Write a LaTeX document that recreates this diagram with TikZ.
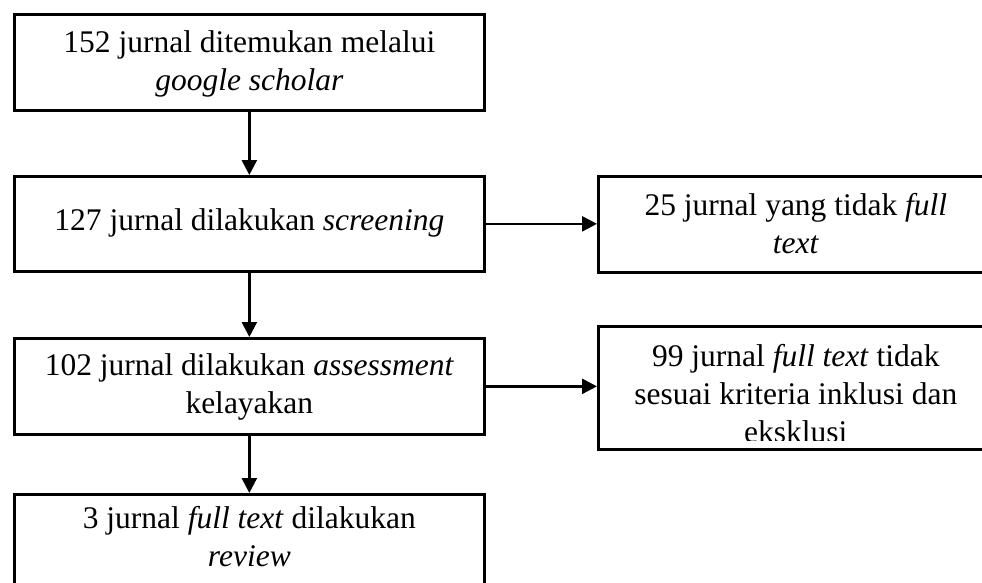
\documentclass[tikz,border=0pt]{standalone}
\usepackage{fontspec}
\setmainfont{Liberation Serif}
\usetikzlibrary{arrows.meta}
\begin{document}
\begin{tikzpicture}[x=1pt,y=-1pt,
  boxstyle/.style={draw, line width=2.7pt, inner sep=0pt, anchor=north west},
  leftbox/.style={boxstyle, minimum width=470pt},
  rightbox/.style={boxstyle, minimum width=395pt},
  txt/.style={anchor=north, inner sep=0pt, align=center, font=\fontsize{31.5pt}{38pt}\selectfont},
  conn/.style={line width=2.5pt, -{Triangle[length=15pt,width=15pt]}}
]
\useasboundingbox (0,0) rectangle (982,583);
\clip (0,0) rectangle (982,583);
\fill[white] (0,0) rectangle (982,583);

% boxes
\node[leftbox, minimum height=96pt] (b1) at (13,13) {};
\node[leftbox, minimum height=95pt] (b2) at (13,175) {};
\node[leftbox, minimum height=96pt] (b3) at (13,337) {};
\node[leftbox, minimum height=110pt] (b4) at (13,493) {};
\node[rightbox, minimum height=96pt] (r1) at (597,175) {};
\node[rightbox, minimum height=123pt] (r2) at (597,325) {};

% texts
\node[txt] (t1) at (b1.north) {\rule{0pt}{39.7pt}152 jurnal ditemukan melalui\\\textit{google scholar}};
\node[txt] (t2) at (b2.north) {\rule{0pt}{55pt}127 jurnal dilakukan \textit{screening}};
\node[txt] (t3) at (b3.north) {\rule{0pt}{38.7pt}102 jurnal dilakukan \textit{assessment}\\kelayakan};
\node[txt] (t4) at (b4.north) {\rule{0pt}{35.3pt}3 jurnal \textit{full text} dilakukan\\\textit{review}};
\node[txt] (t5) at (r1.north) {\rule{0pt}{40pt}25 jurnal yang tidak \textit{full}\\\textit{text}};
\begin{scope}
\clip (597,325) rectangle (992,440);
\node[txt] (t6) at (r2.north) {\rule{0pt}{41pt}99 jurnal \textit{full text} tidak\\sesuai kriteria inklusi dan\\eksklusi};
\end{scope}

% connectors
\draw[conn] (b1.south) -- (b2.north);
\draw[conn] (b2.south) -- (b3.north);
\draw[conn] (b3.south) -- (b4.north);
\draw[conn] (b2.east) -- (b2.east -| r1.west);
\draw[conn] (b3.east) -- (b3.east -| r2.west);
\end{tikzpicture}
\end{document}
